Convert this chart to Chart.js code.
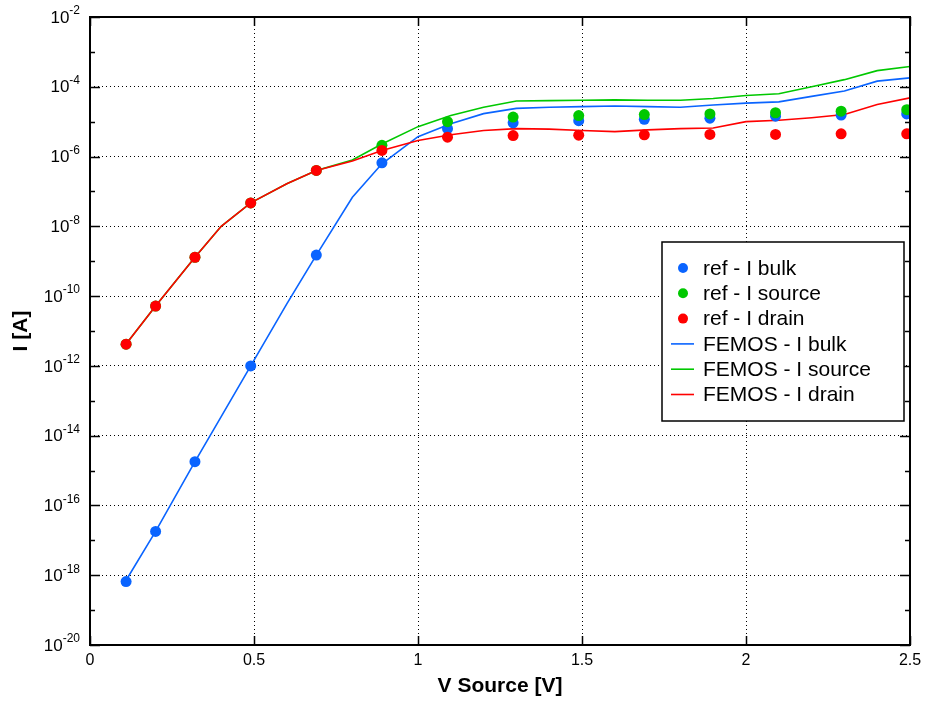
<!DOCTYPE html>
<html>
<head>
<meta charset="utf-8">
<script src="https://cdn.jsdelivr.net/npm/chart.js@4/dist/chart.umd.min.js"></script>
<style>
  html, body { margin: 0; padding: 0; background: #fff; }
  canvas { display: block; }
</style>
</head>
<body>
<canvas id="ivChart" width="929" height="702"></canvas>
<script>
// reference points (dots)
var refX = [0.11, 0.2, 0.32, 0.49, 0.69, 0.89, 1.09, 1.29, 1.49, 1.69, 1.89, 2.09, 2.29, 2.49];
var refBulk = [6.6e-19, 1.8e-17, 1.8e-15, 1.0e-12, 1.5e-9, 6.6e-7, 6.3e-6, 9.3e-6, 1.07e-5, 1.17e-5, 1.26e-5, 1.44e-5, 1.55e-5, 1.67e-5];
var refSource = [4.2e-12, 5.2e-11, 1.3e-9, 4.7e-8, 4.0e-7, 2.1e-6, 1.0e-5, 1.35e-5, 1.5e-5, 1.6e-5, 1.67e-5, 1.8e-5, 2.0e-5, 2.2e-5];
var refDrain = [4.2e-12, 5.2e-11, 1.3e-9, 4.7e-8, 4.0e-7, 1.5e-6, 3.6e-6, 4.0e-6, 4.1e-6, 4.2e-6, 4.3e-6, 4.3e-6, 4.5e-6, 4.5e-6];

// FEMOS simulation (lines)
var femosX = [0.1, 0.2, 0.32, 0.4, 0.49, 0.6, 0.69, 0.8, 0.89, 1.0, 1.1, 1.2, 1.3, 1.4, 1.5, 1.6, 1.7, 1.8, 1.9, 2.0, 2.1, 2.2, 2.3, 2.4, 2.5];
var femosBulk = [5e-19, 1.8e-17, 1.8e-15, 3.5e-14, 1.0e-12, 6e-11, 1.5e-9, 6.8e-8, 6.2e-7, 3.7e-6, 8.7e-6, 1.7e-5, 2.4e-5, 2.6e-5, 2.7e-5, 2.8e-5, 2.7e-5, 2.6e-5, 3.0e-5, 3.4e-5, 3.7e-5, 5.3e-5, 7.6e-5, 1.45e-4, 1.8e-4];
var femosSource = [3.2e-12, 5.2e-11, 1.3e-9, 1.0e-8, 4.7e-8, 1.66e-7, 4.0e-7, 8.0e-7, 2.3e-6, 7.2e-6, 1.5e-5, 2.6e-5, 3.9e-5, 4.0e-5, 4.1e-5, 4.2e-5, 4.1e-5, 4.1e-5, 4.6e-5, 5.6e-5, 6.3e-5, 1.0e-4, 1.6e-4, 2.9e-4, 3.8e-4];
var femosDrain = [3.2e-12, 5.2e-11, 1.3e-9, 1.0e-8, 4.7e-8, 1.66e-7, 4.0e-7, 7.5e-7, 1.5e-6, 2.9e-6, 4.2e-6, 5.6e-6, 6.3e-6, 6.1e-6, 5.6e-6, 5.2e-6, 5.8e-6, 6.3e-6, 6.6e-6, 1.0e-5, 1.1e-5, 1.3e-5, 1.6e-5, 3.1e-5, 4.8e-5];

// ticks
var xTicks = [0, 0.5, 1, 1.5, 2, 2.5];
var xTickLabels = ["0", "0.5", "1", "1.5", "2", "2.5"];
var yTickExp = [-20, -18, -16, -14, -12, -10, -8, -6, -4, -2];
var yMinorExp = [-19, -17, -15, -13, -11, -9, -7, -5, -3];

var blue = "#0a64ff";
var green = "#00c800";
var red = "#ff0000";
var fontName = "'Liberation Sans', Arial, Helvetica, sans-serif";

var toPoints = function(xs, ys) {
    return xs.map(function(x, i) { return {x: x, y: ys[i]}; });
}

var dotSet = function(label, color, xs, ys, order) {
    return {
        type: "scatter",
        label: label,
        data: toPoints(xs, ys),
        backgroundColor: color,
        borderColor: color,
        pointRadius: 5.5,
        pointBorderWidth: 0,
        showLine: false,
        order: order
    };
}

var lineSet = function(label, color, xs, ys, order) {
    return {
        type: "line",
        label: label,
        data: toPoints(xs, ys),
        borderColor: color,
        backgroundColor: color,
        borderWidth: 1.6,
        pointRadius: 0,
        tension: 0,
        fill: false,
        order: order
    };
}

// frame, ticks, labels, titles and legend
var decorPlugin = {
    id: "decor",
    afterDraw: function(chart) {
        var ctx = chart.ctx;
        var area = chart.chartArea;
        var xs = chart.scales.x;
        var ys = chart.scales.y;
        ctx.save();
        ctx.strokeStyle = "#000";
        ctx.lineWidth = 2;
        ctx.strokeRect(area.left, area.top, area.right - area.left, area.bottom - area.top);

        // tick marks
        ctx.lineWidth = 1.5;
        ctx.beginPath();
        yTickExp.concat(yMinorExp).forEach(function(e) {
            var y = Math.round(ys.getPixelForValue(Math.pow(10, e))) + 0.5;
            var len = (e % 2 === 0) ? 10 : 5;
            ctx.moveTo(area.left, y); ctx.lineTo(area.left + len, y);
            ctx.moveTo(area.right, y); ctx.lineTo(area.right - len, y);
        });
        xTicks.forEach(function(v) {
            var x = Math.round(xs.getPixelForValue(v)) + 0.5;
            ctx.moveTo(x, area.top); ctx.lineTo(x, area.top + 9);
            ctx.moveTo(x, area.bottom); ctx.lineTo(x, area.bottom - 9);
        });
        ctx.stroke();

        // y tick labels 10^e
        ctx.fillStyle = "#000";
        ctx.textBaseline = "middle";
        yTickExp.forEach(function(e) {
            var y = ys.getPixelForValue(Math.pow(10, e));
            var exp = "-" + Math.abs(e);
            ctx.font = "12px " + fontName;
            var we = ctx.measureText(exp).width;
            ctx.font = "17px " + fontName;
            var wb = ctx.measureText("10").width;
            var right = 80;
            ctx.textAlign = "left";
            ctx.fillText("10", right - we - wb, y + 1);
            ctx.font = "12px " + fontName;
            ctx.fillText(exp, right - we, y - 6);
        });

        // x tick labels
        ctx.font = "16px " + fontName;
        ctx.textAlign = "center";
        xTicks.forEach(function(v, i) {
            ctx.fillText(xTickLabels[i], xs.getPixelForValue(v), 661);
        });

        // axis titles
        ctx.font = "bold 21px " + fontName;
        ctx.fillText("V Source [V]", (area.left + area.right) / 2, 686);
        ctx.save();
        ctx.translate(21, 331);
        ctx.rotate(-Math.PI / 2);
        ctx.fillText("I [A]", 0, 0);
        ctx.restore();

        // legend box
        var lx = 662, ly = 242, lw = 242, lh = 179;
        ctx.fillStyle = "#fff";
        ctx.fillRect(lx, ly, lw, lh);
        ctx.strokeStyle = "#000";
        ctx.lineWidth = 1.5;
        ctx.strokeRect(lx, ly, lw, lh);
        ctx.font = "21px " + fontName;
        ctx.textAlign = "left";
        chart.data.datasets.forEach(function(ds, i) {
            var y = 268 + i * 25.3;
            if (ds.type === "scatter") {
                ctx.fillStyle = ds.backgroundColor;
                ctx.beginPath();
                ctx.arc(683, y, 5, 0, Math.PI * 2);
                ctx.fill();
            } else {
                ctx.strokeStyle = ds.borderColor;
                ctx.lineWidth = 1.6;
                ctx.beginPath();
                ctx.moveTo(671, y); ctx.lineTo(694, y);
                ctx.stroke();
            }
            ctx.fillStyle = "#000";
            ctx.fillText(ds.label, 703, y + 1);
        });
        ctx.restore();
    }
};

new Chart(document.getElementById("ivChart").getContext("2d"), {
    data: {
        datasets: [
            dotSet("ref - I bulk", blue, refX, refBulk, 2),
            dotSet("ref - I source", green, refX, refSource, 1),
            dotSet("ref - I drain", red, refX, refDrain, 0),
            lineSet("FEMOS - I bulk", blue, femosX, femosBulk, 5),
            lineSet("FEMOS - I source", green, femosX, femosSource, 4),
            lineSet("FEMOS - I drain", red, femosX, femosDrain, 3)
        ]
    },
    options: {
        responsive: false,
        animation: false,
        devicePixelRatio: 1,
        layout: {
            autoPadding: false,
            padding: {top: 17, right: 19, left: 0, bottom: 0}
        },
        plugins: {
            legend: {display: false},
            tooltip: {enabled: false}
        },
        scales: {
            x: {
                type: "linear",
                min: 0,
                max: 2.5,
                ticks: {display: false, stepSize: 0.5},
                grid: {color: "#000", lineWidth: 1, drawTicks: false},
                border: {display: false, dash: [1, 3]},
                afterFit: function(scale) { scale.height = 57; }
            },
            y: {
                type: "logarithmic",
                min: 1e-20,
                max: 1e-2,
                ticks: {display: false},
                grid: {color: "#000", lineWidth: 1, drawTicks: false},
                border: {display: false, dash: [1, 3]},
                afterBuildTicks: function(scale) {
                    scale.ticks = yTickExp.map(function(e) { return {value: Math.pow(10, e)}; });
                },
                afterFit: function(scale) { scale.width = 90; }
            }
        }
    },
    plugins: [decorPlugin]
});
</script>
</body>
</html>
